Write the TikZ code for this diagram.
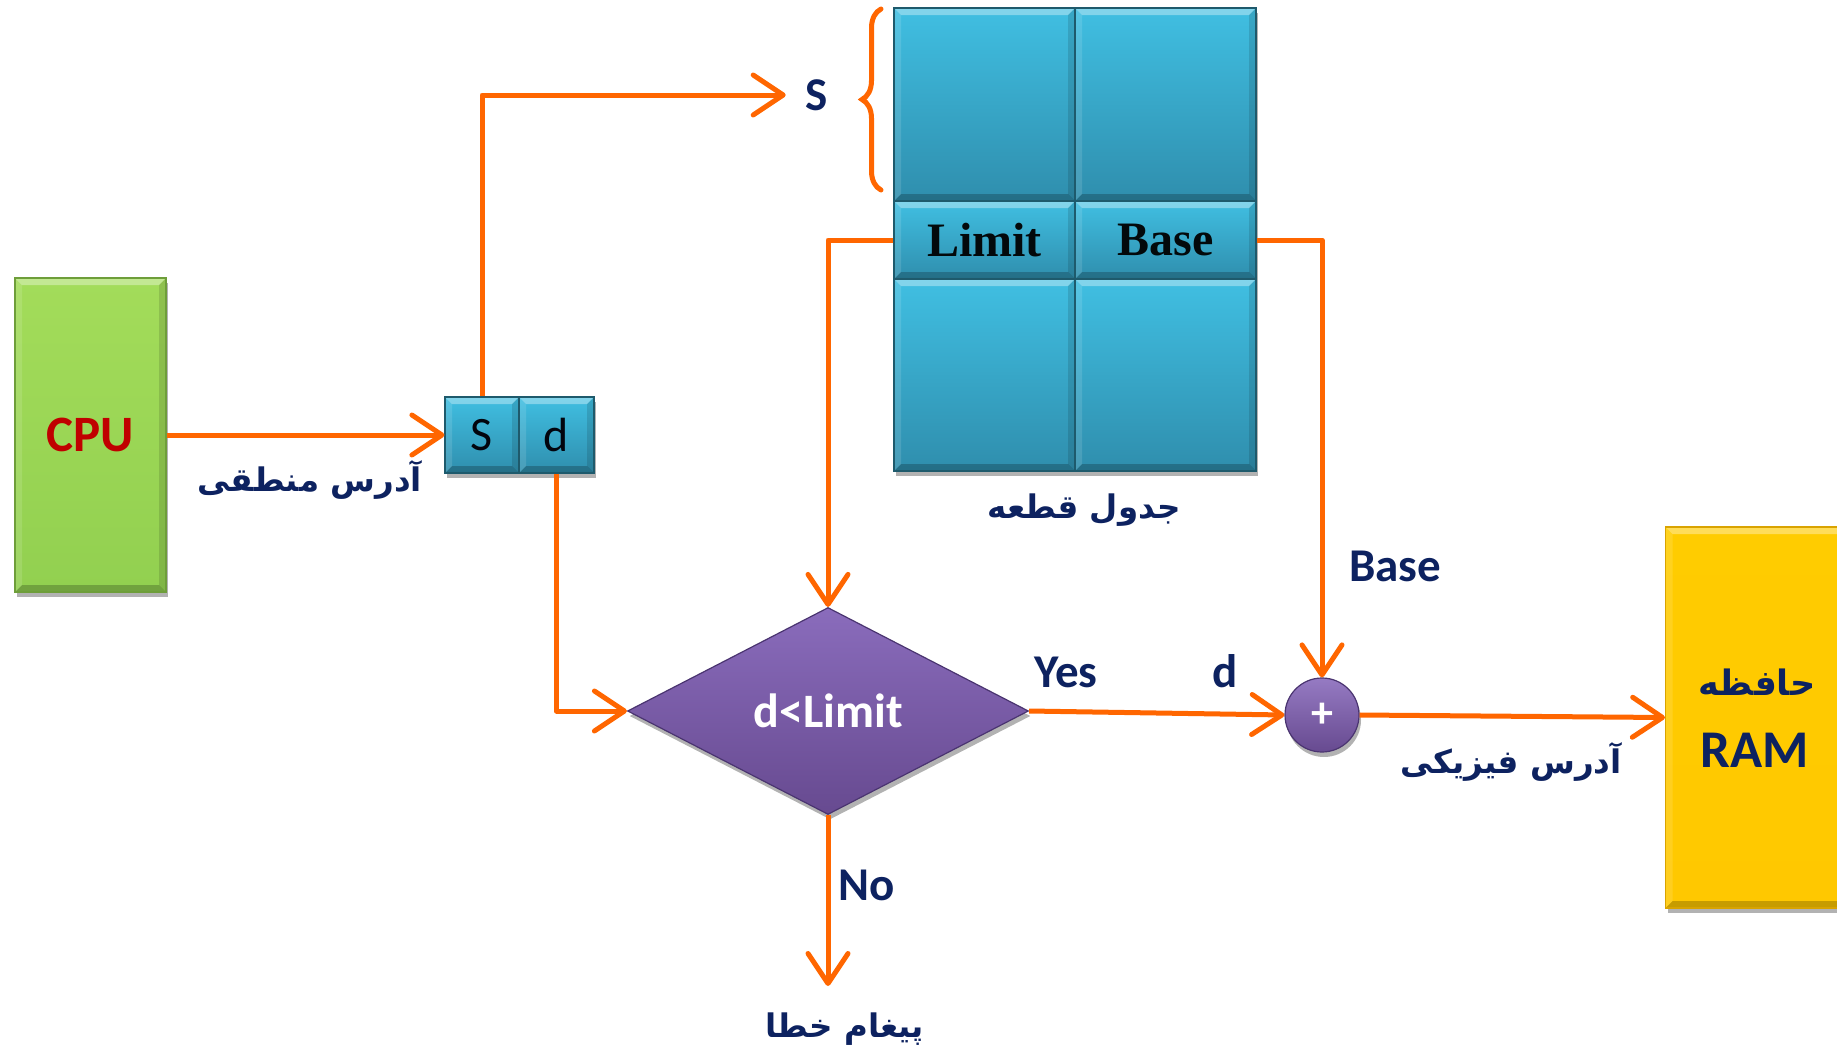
\documentclass[tikz,border=0pt]{standalone}
\usepackage{fontspec}
\setmainfont{Carlito}
\newfontfamily\fa[Script=Arabic]{DejaVu Sans}
\newfontfamily\tnr{Liberation Serif}
\TeXXeTstate=1
\usetikzlibrary{shapes.geometric,arrows.meta,decorations.pathreplacing,shadows}
\definecolor{org}{HTML}{FF6600}
\definecolor{navy}{HTML}{0D2260}
\definecolor{cpured}{HTML}{C00000}
\definecolor{cyanT}{HTML}{40BFE2}
\definecolor{cyanB}{HTML}{2F8EAD}
\definecolor{cyanD}{HTML}{1E5A6C}
\definecolor{grnT}{HTML}{A3DC5A}
\definecolor{grnB}{HTML}{92D050}
\definecolor{grnD}{HTML}{6E9E3A}
\definecolor{purT}{HTML}{8A6CBC}
\definecolor{purB}{HTML}{674A90}
\definecolor{purD}{HTML}{4A3470}
\definecolor{yelT}{HTML}{FFCC00}
\definecolor{yelB}{HTML}{FFC800}
\definecolor{yelD}{HTML}{D9A300}
\begin{document}
\begin{tikzpicture}[x=1pt,y=-1pt,
  conn/.style={draw=org, line width=5pt, line join=round,
    -{Straight Barb[length=30pt,width=40pt,round]}},
  bevel/.style={path picture={
    \fill[white,opacity=0.35] (path picture bounding box.north west) -- (path picture bounding box.north east)
      -- ([xshift=-7pt,yshift=-7pt]path picture bounding box.north east) -- ([xshift=7pt,yshift=-7pt]path picture bounding box.north west) -- cycle;
    \fill[black,opacity=0.22] (path picture bounding box.south west) -- (path picture bounding box.south east)
      -- ([xshift=-7pt,yshift=7pt]path picture bounding box.south east) -- ([xshift=7pt,yshift=7pt]path picture bounding box.south west) -- cycle;
    \fill[white,opacity=0.12] (path picture bounding box.north west) -- (path picture bounding box.south west)
      -- ([xshift=7pt,yshift=7pt]path picture bounding box.south west) -- ([xshift=7pt,yshift=-7pt]path picture bounding box.north west) -- cycle;
    \fill[black,opacity=0.12] (path picture bounding box.north east) -- (path picture bounding box.south east)
      -- ([xshift=-7pt,yshift=7pt]path picture bounding box.south east) -- ([xshift=-7pt,yshift=-7pt]path picture bounding box.north east) -- cycle;
  }},
  shad/.style={drop shadow={shadow xshift=2pt, shadow yshift=-5pt, opacity=0.3, fill=black}},
  cell/.style={rectangle, inner sep=0pt, top color=cyanT, bottom color=cyanB, draw=cyanD, line width=1.2pt, bevel, shad},
  lbl/.style={text=navy, font=\fontsize{47}{47}\selectfont\bfseries, inner sep=0pt},
  falbl/.style={text=navy, font=\fa\fontsize{32.5}{32.5}\selectfont\bfseries, inner sep=0pt},
]
\useasboundingbox (0,0) rectangle (1837,1055);

% CPU
\node[rectangle, inner sep=0pt, minimum width=151pt, minimum height=314pt,
  top color=grnT, bottom color=grnB, draw=grnD, line width=1.2pt, bevel, shad,
  text=cpured, font=\fontsize{51}{51}\selectfont\bfseries] (cpu) at (90.5,435) {CPU};

% S d boxes
\node[cell, minimum width=74pt, minimum height=76pt, text=black!85!navy,
  font=\fontsize{48}{48}\selectfont] (sbox) at (482,435) {S};
\node[cell, minimum width=75pt, minimum height=76pt, text=black!85!navy,
  font=\fontsize{48}{48}\selectfont] (dbox) at (556.5,435) {d};

% segment table
\node[cell, minimum width=181pt, minimum height=193pt] (c11) at (984.5,104.5) {};
\node[cell, minimum width=181pt, minimum height=193pt] (c12) at (1165.5,104.5) {};
\node[cell, minimum width=181pt, minimum height=78pt, text=black!90!cyanD,
  font=\tnr\fontsize{48}{48}\selectfont\bfseries] (c21) at (984.5,240) {Limit};
\node[cell, minimum width=181pt, minimum height=78pt, text=black!90!cyanD,
  font=\tnr\fontsize{48}{48}\selectfont\bfseries] (c22) at (1165.5,240) {Base};
\node[cell, minimum width=181pt, minimum height=192pt] (c31) at (984.5,375) {};
\node[cell, minimum width=181pt, minimum height=192pt] (c32) at (1165.5,375) {};

% diamond
\node[diamond, aspect=1.94, minimum width=401pt, minimum height=207pt, inner sep=0pt,
  top color=purT, bottom color=purB, draw=purD, line width=1.2pt, shad,
  text=white, font=\fontsize{48}{48}\selectfont\bfseries] (dia) at (828,711) {d<Limit};

% adder
\node[circle, minimum size=74pt, inner sep=0pt, top color=purT!90!white, bottom color=purB,
  draw=purD, line width=1.2pt, shad, text=white,
  font=\fontsize{44}{44}\selectfont\bfseries] (plus) at (1322,715) {+};

% RAM
\node[rectangle, inner sep=0pt, minimum width=220pt, minimum height=381pt, anchor=west,
  top color=yelT, bottom color=yelB, draw=yelD, line width=1.2pt, bevel, shad] (ram) at (1665,717.5) {};
\node[falbl, font=\fa\fontsize{35}{35}\selectfont\bfseries] (hafeze) at (1757,682) {\beginR حافظه\endR};
\node[lbl, font=\fontsize{53}{53}\selectfont\bfseries] (ramt) at (1755,750) {RAM};

% labels
\node[falbl] (logaddr) at (310,480) {\beginR آدرس منطقی\endR};
\node[falbl] (segtab) at (1084,510) {\beginR جدول قطعه\endR};
\node[falbl] (phyaddr) at (1511,762) {\beginR آدرس فیزیکی\endR};
\node[falbl] (err) at (845,1029) {\beginR پیغام خطا\endR};
\node[lbl] (slbl) at (817,95) {S};
\node[lbl] (baselbl) at (1395,566) {Base};
\node[lbl] (yes) at (1066,672) {Yes};
\node[lbl] (dlbl) at (1225,671) {d};
\node[lbl] (no) at (867,885) {No};
\coordinate (noend) at (828,986);

% brace
\draw[org, line width=5pt, line cap=round, decorate, decoration={brace, amplitude=19pt}]
  (881,190) -- (881,9);

% connectors
\draw[conn] (cpu.east) -- (sbox.west);
\draw[conn] (sbox.north) |- ([xshift=-20pt]slbl.west);
\draw[conn] (c21.west) -| (dia.north);
\draw[conn] (c22.east) -| (plus.north);
\draw[conn] (dbox.south) |- (dia.west);
\draw[conn] (dia.east) -- (plus.west);
\draw[conn] (plus.east) -- (ram.west);
\draw[conn] (dia.south) -- (noend);
\end{tikzpicture}
\end{document}
